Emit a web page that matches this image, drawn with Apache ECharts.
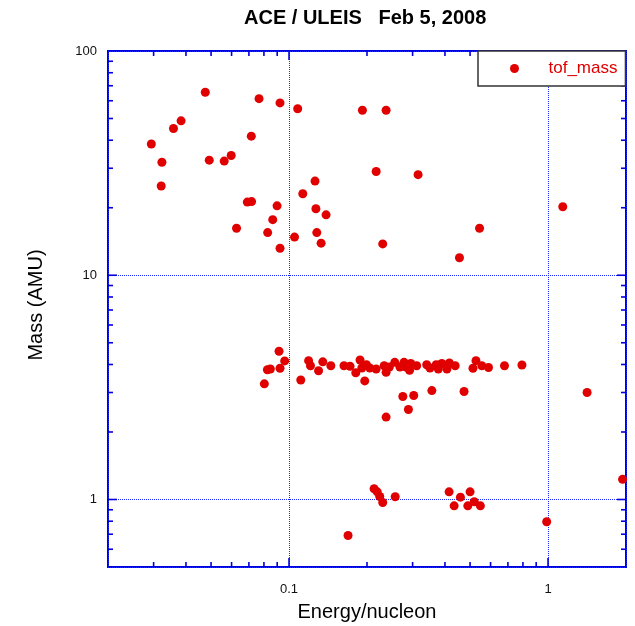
<!DOCTYPE html>
<html>
<head>
<meta charset="utf-8">
<script src="https://cdn.jsdelivr.net/npm/echarts@6/dist/echarts.min.js"></script>
<style>
  html, body { margin: 0; padding: 0; background: #fff; }
  #chart { width: 635px; height: 626px; }
</style>
</head>
<body>
<div id="chart"></div>
<script>
// ULEIS time-of-flight mass vs energy per nucleon
const energy = [
  0.0475, 0.0766, 0.0923, 0.108, 0.0383, 0.0358, 0.0294, 0.0715, 0.0323, 0.0492,
  0.0562, 0.0598, 0.0321, 0.126, 0.113, 0.069, 0.0717, 0.0899, 0.127, 0.0865,
  0.0627, 0.0827, 0.128, 0.105, 0.0923, 0.133, 0.192, 0.237, 0.217, 0.315,
  0.139, 0.230, 0.544, 0.455, 1.14,
  0.0915, 0.0962, 0.0825, 0.0847, 0.0923, 0.0803, 0.111, 0.119, 0.121, 0.130,
  0.135, 0.145, 0.163, 0.172, 0.181, 0.188, 0.191, 0.199, 0.205, 0.217,
  0.233, 0.237, 0.244, 0.256, 0.268, 0.278, 0.283, 0.292, 0.295, 0.311,
  0.340, 0.350, 0.370, 0.377, 0.389, 0.407, 0.416, 0.438, 0.196, 0.275,
  0.303, 0.356, 0.474, 0.289, 0.237, 0.679, 0.793, 0.513, 0.527, 0.555,
  0.589, 1.415, 1.94,
  0.213, 0.219, 0.224, 0.230, 0.257, 0.415, 0.459, 0.500, 0.434, 0.490,
  0.519, 0.548, 0.169, 0.988
];
const mass = [
  65.5, 61.3, 58.7, 55.3, 48.8, 45.1, 38.5, 41.7, 31.9, 32.6,
  32.3, 34.2, 25.0, 26.3, 23.1, 21.2, 21.3, 20.4, 19.8, 17.7,
  16.2, 15.5, 15.5, 14.8, 13.2, 13.9, 54.4, 54.4, 29.0, 28.1,
  18.6, 13.8, 16.2, 11.97, 20.2,
  4.58, 4.15, 3.79, 3.82, 3.85, 3.28, 3.41, 4.16, 3.95, 3.75,
  4.11, 3.95, 3.95, 3.93, 3.67, 4.19, 3.86, 3.99, 3.86, 3.82,
  3.95, 3.69, 3.90, 4.09, 3.90, 4.09, 3.90, 3.77, 4.04, 3.95,
  3.99, 3.86, 3.99, 3.82, 4.04, 3.82, 4.06, 3.95, 3.38, 2.88,
  2.91, 3.06, 3.03, 2.52, 2.33, 3.95, 3.98, 3.85, 4.16, 3.95,
  3.88, 3.00, 1.23,
  1.116, 1.082, 1.031, 0.970, 1.028, 1.082, 1.024, 1.082, 0.937, 0.937,
  0.977, 0.937, 0.691, 0.796
];

// Axis labels and tick positions
const xTickLabels = ['0.1', '1'];
const yTickLabels = ['1', '10', '100'];
const xMajorTicks = [0.1, 1];
const xMinorTicks = [0.03, 0.04, 0.05, 0.06, 0.07, 0.08, 0.09, 0.2, 0.3, 0.4, 0.5, 0.6, 0.7, 0.8, 0.9];
const yMajorTicks = [1, 10];
const yMinorTicks = [0.6, 0.7, 0.8, 0.9, 2, 3, 4, 5, 6, 7, 8, 9, 20, 30, 40, 50, 60, 70, 80, 90];

const X_MIN = 0.02, X_MAX = 2, Y_MIN = 0.5, Y_MAX = 100;
const FRAME = '#0000dd';
const GRIDLINE = '#1a2aff';
const RED = '#e00000';
const FONT = '"Liberation Sans", Arial, Helvetica, sans-serif';

const points = energy.map((e, i) => [e, mass[i]]);

function labelFilter(list) {
  return v => {
    const s = String(+Number(v).toPrecision(6));
    return list.includes(s) ? s : '';
  };
}

// Inward tick marks on bottom+top (x) and left+right (y) edges
function xTickItem(params, api) {
  const x = api.value(0), len = api.value(2);
  const b = api.coord([x, Y_MIN]);
  const t = api.coord([x, Y_MAX]);
  const st = { stroke: FRAME, lineWidth: 1.6 };
  return { type: 'group', children: [
    { type: 'line', shape: { x1: b[0], y1: b[1], x2: b[0], y2: b[1] - len }, style: st },
    { type: 'line', shape: { x1: t[0], y1: t[1], x2: t[0], y2: t[1] + len }, style: st }
  ]};
}
function yTickItem(params, api) {
  const y = api.value(1), len = api.value(2);
  const l = api.coord([X_MIN, y]);
  const r = api.coord([X_MAX, y]);
  const st = { stroke: FRAME, lineWidth: 1.6 };
  return { type: 'group', children: [
    { type: 'line', shape: { x1: l[0], y1: l[1], x2: l[0] + len, y2: l[1] }, style: st },
    { type: 'line', shape: { x1: r[0], y1: r[1], x2: r[0] - len, y2: r[1] }, style: st }
  ]};
}

const xTickData = xMinorTicks.map(v => [v, Y_MIN, 5]).concat(xMajorTicks.map(v => [v, Y_MIN, 9]));
const yTickData = yMinorTicks.map(v => [X_MIN, v, 5]).concat(yMajorTicks.map(v => [X_MIN, v, 9]));

const chart = echarts.init(document.getElementById('chart'), null, { renderer: 'canvas' });
chart.setOption({
  animation: false,
  backgroundColor: '#fff',
  title: {
    text: 'ACE / ULEIS   Feb 5, 2008',
    left: 244, top: 8, padding: 0,
    textStyle: { fontFamily: FONT, fontSize: 20, fontWeight: 'bold', color: '#000' }
  },
  legend: {
    data: ['tof_mass'],
    left: 478, top: 51,
    padding: [9, 8, 9, 32],
    itemWidth: 58, itemHeight: 9,
    icon: 'circle',
    selectedMode: false,
    backgroundColor: '#fff',
    borderColor: '#333', borderWidth: 1.5,
    textStyle: { fontFamily: FONT, fontSize: 17, color: RED }
  },
  grid: {
    left: 108, top: 51, right: 9, bottom: 59,
    outerBoundsMode: 'none',
    containLabel: false,
    show: true, borderColor: FRAME, borderWidth: 2, backgroundColor: '#fff'
  },
  xAxis: {
    type: 'log', logBase: 10, min: X_MIN, max: X_MAX,
    name: 'Energy/nucleon', nameLocation: 'middle', nameGap: 35,
    nameTextStyle: { fontFamily: FONT, fontSize: 20, color: '#000' },
    axisLine: { show: false }, axisTick: { show: false },
    axisLabel: { margin: 16, fontFamily: FONT, fontSize: 13, color: '#111',
      formatter: labelFilter(xTickLabels) },
    splitLine: { show: true, lineStyle: { color: GRIDLINE, width: 1, type: [1, 1] } }
  },
  yAxis: {
    type: 'log', logBase: 10, min: Y_MIN, max: Y_MAX,
    name: 'Mass (AMU)', nameLocation: 'middle', nameGap: 62,
    nameTextStyle: { fontFamily: FONT, fontSize: 20, color: '#000', padding: [0, 0, 0, 8] },
    axisLine: { show: false }, axisTick: { show: false },
    axisLabel: { margin: 11, fontFamily: FONT, fontSize: 13, color: '#111',
      formatter: labelFilter(yTickLabels) },
    splitLine: { show: true, lineStyle: { color: GRIDLINE, width: 1, type: [1, 1] } }
  },
  series: [
    {
      name: 'tof_mass', type: 'scatter',
      data: points, symbol: 'circle', symbolSize: 9,
      itemStyle: { color: RED, opacity: 1 },
      z: 5
    },
    {
      type: 'custom', silent: true, clip: false, z: 3,
      data: xTickData, encode: { x: 0, y: 1 },
      renderItem: xTickItem
    },
    {
      type: 'custom', silent: true, clip: false, z: 3,
      data: yTickData, encode: { x: 0, y: 1 },
      renderItem: yTickItem
    }
  ]
});
</script>
</body>
</html>
